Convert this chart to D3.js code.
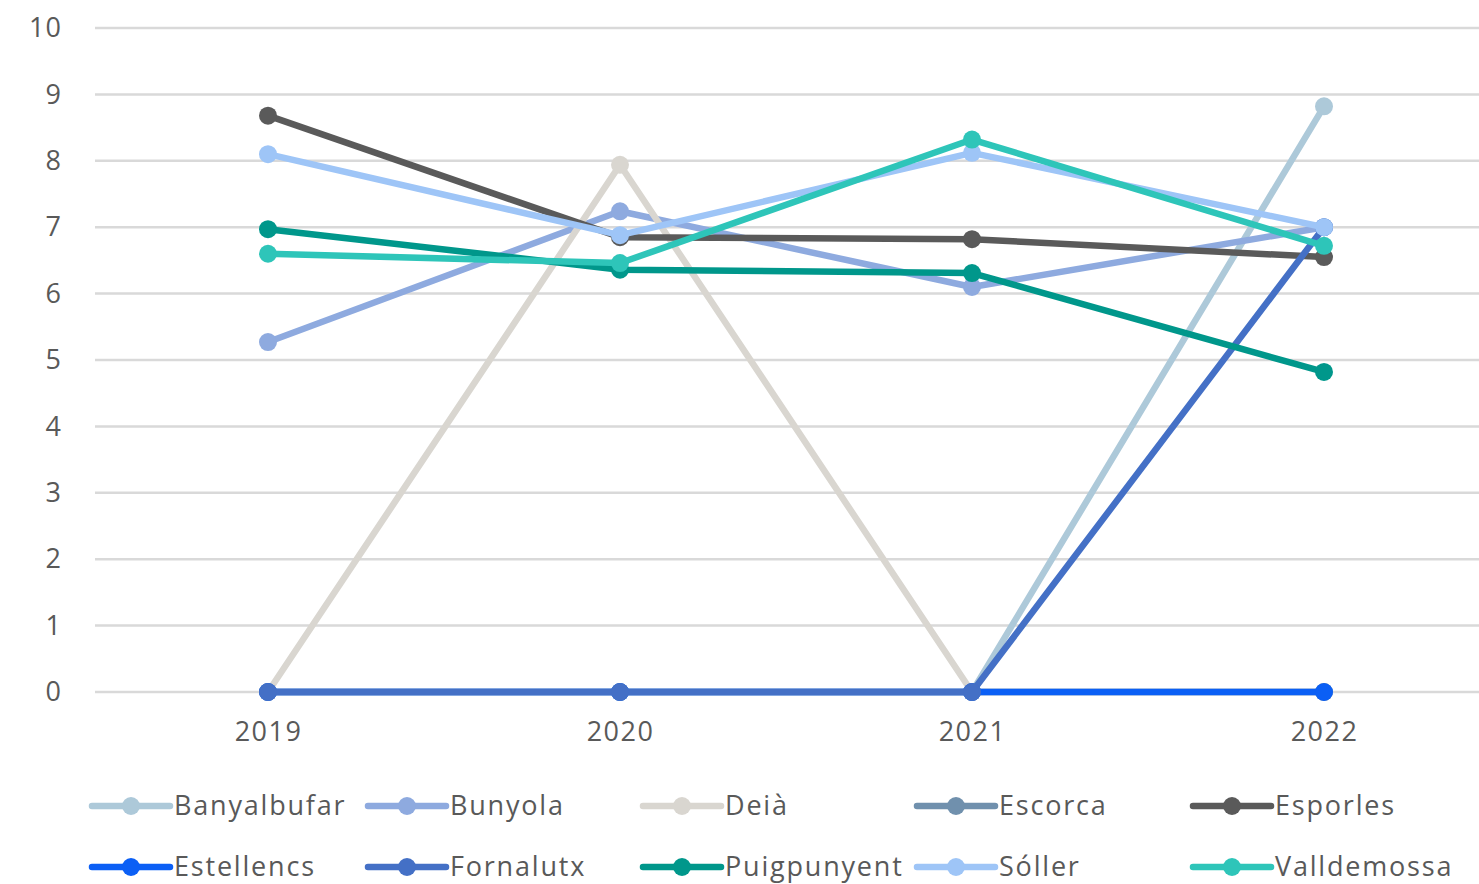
<!DOCTYPE html>
<html>
<head>
<meta charset="utf-8">
<script src="https://cdn.jsdelivr.net/npm/d3@7"></script>
<style>
html,body{margin:0;padding:0;background:#fff;overflow:hidden;}
svg{display:block;}
</style>
</head>
<body>
<svg id="chart" width="1479" height="884"></svg>
<script>
const years = ["2019","2020","2021","2022"];
const yTicks = [0,1,2,3,4,5,6,7,8,9,10];
const seriesNames = ["Banyalbufar","Bunyola","Deià","Escorca","Esporles","Estellencs","Fornalutx","Puigpunyent","Sóller","Valldemossa"];
const seriesColors = ["#adc9d9","#8eaadf","#d9d6d0","#7090ad","#5a5a5a","#0b5ff5","#4470c6","#00978b","#9ec5f7","#2ec5b9"];
const banyalbufar = [0, 0, 0, 8.82];
const bunyola     = [5.27, 7.24, 6.1, 7.0];
const deia        = [0, 7.94, 0, 0];
const escorca     = [0, 0, 0, 0];
const esporles    = [8.68, 6.85, 6.82, 6.55];
const estellencs  = [0, 0, 0, 0];
const fornalutx   = [0, 0, 0, 7.0];
const puigpunyent = [6.97, 6.36, 6.31, 4.82];
const soller      = [8.1, 6.88, 8.12, 7.0];
const valldemossa = [6.6, 6.46, 8.32, 6.72];
const seriesValues = [banyalbufar,bunyola,deia,escorca,esporles,estellencs,fornalutx,puigpunyent,soller,valldemossa];

const svg = d3.select("#chart");
const font = "'Open Sans', 'Noto Sans', sans-serif";
const textColor = "#595959";

const x = d3.scalePoint().domain(years).range([268, 1324]);
const y = d3.scaleLinear().domain([0,10]).range([692, 28]);

// gridlines
svg.append("g").selectAll("line").data(yTicks).join("line")
  .attr("x1", 95).attr("x2", 1479)
  .attr("y1", d => y(d)).attr("y2", d => y(d))
  .attr("stroke", "#d9d9d9").attr("stroke-width", 2.5);

// y axis labels
const yAxis = d3.axisLeft(y).tickValues(yTicks).tickSize(0).tickPadding(0);
const gy = svg.append("g").attr("transform", "translate(62,0)").call(yAxis);
gy.select(".domain").remove();
gy.selectAll("text").attr("font-family", font).attr("font-size", 27)
  .attr("letter-spacing", 1).attr("fill", textColor);

// x axis labels
const xAxis = d3.axisBottom(x).tickSize(0).tickPadding(0);
const gx = svg.append("g").attr("transform", "translate(0,722)").call(xAxis);
gx.select(".domain").remove();
gx.selectAll("text").attr("font-family", font).attr("font-size", 27)
  .attr("letter-spacing", 1.5).attr("fill", textColor);

// lines
const line = d3.line().x((d,i) => x(years[i])).y(d => y(d));
seriesValues.forEach((vals, si) => {
  const g = svg.append("g");
  g.append("path").datum(vals).attr("d", line)
    .attr("fill", "none").attr("stroke", seriesColors[si])
    .attr("stroke-width", 6.5).attr("stroke-linejoin", "round").attr("stroke-linecap", "round");
  g.selectAll("circle").data(vals).join("circle")
    .attr("cx", (d,i) => x(years[i])).attr("cy", d => y(d))
    .attr("r", 9).attr("fill", seriesColors[si]);
});

// legend
const legCols = [92, 368, 643, 917, 1193];
const legRows = [806, 867];
const leg = svg.append("g");
seriesNames.forEach((name, i) => {
  const cx = legCols[i % 5], cy = legRows[Math.floor(i / 5)];
  const g = leg.append("g").attr("transform", `translate(${cx},${cy})`);
  g.append("line").attr("x1", 0).attr("x2", 78).attr("y1", 0).attr("y2", 0)
    .attr("stroke", seriesColors[i]).attr("stroke-width", 6.5).attr("stroke-linecap", "round");
  g.append("circle").attr("cx", 39).attr("cy", 0).attr("r", 9).attr("fill", seriesColors[i]);
  g.append("text").attr("x", 82).attr("y", 0).attr("dy", "0.35em")
    .attr("font-family", font).attr("font-size", 27).attr("letter-spacing", 1.8)
    .attr("fill", textColor)
    .text(name);
});
</script>
</body>
</html>
